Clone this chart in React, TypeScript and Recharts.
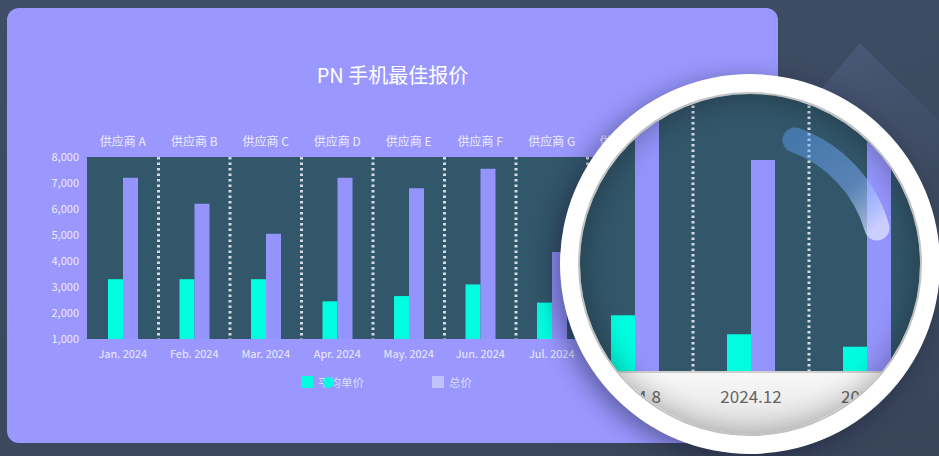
import React from 'react';
import { Bar, BarChart, CartesianGrid, XAxis, YAxis } from 'recharts';

const months = [
  'Jan. 2024',
  'Feb. 2024',
  'Mar. 2024',
  'Apr. 2024',
  'May. 2024',
  'Jun. 2024',
  'Jul. 2024',
  'Aug. 2024',
  'Sep. 2024',
];
const suppliers = [
  '供应商 A',
  '供应商 B',
  '供应商 C',
  '供应商 D',
  '供应商 E',
  '供应商 F',
  '供应商 G',
  '供应商 H',
  '供应商 I',
];
const avgPrice = [3300, 3300, 3300, 2450, 2650, 3100, 2400, 2350, 2200];
const totalPrice = [7200, 6200, 5050, 7200, 6800, 7550, 4350, 7600, 6100];
const yTicks = [1000, 2000, 3000, 4000, 5000, 6000, 7000, 8000];

// what the magnifier shows
const lensPeriods = ['2024.4', '2024.8', '2024.12', '2025.4', '2025.8'];
const lensAvg = [2100, 2350, 1900, 1600, 2000];
const lensTotal = [6400, 7600, 6050, 7300, 6500];

const FONT = '"Noto Sans CJK SC", "Noto Sans", sans-serif';
const CYAN = '#00fde0';
const PURPLE = '#9494fc';
const PLOT_BG = '#32566a';
const SEP = '#d6dae2';
const LABEL = '#ecebff';

// dotted separators sit on the band edges between categories
function bandEdges(categories: string[]) {
  return ({ xAxis }: any) => {
    try {
      const sc = xAxis?.scale;
      if (!sc) return [];
      const f = typeof sc === 'function' ? (v: string) => sc(v) : (v: string) => sc.map(v);
      const range: number[] = sc.range();
      const lo = Math.min(...range);
      const first = f(categories[0]);
      const shift = Math.abs(first - lo) < 1 ? 0 : first - lo;
      return categories.slice(1).map((c) => f(c) - shift);
    } catch (e) {
      return [];
    }
  };
}

function Lens() {
  const lensData = lensPeriods.map((period, i) => ({
    period,
    avg: lensAvg[i],
    total: lensTotal[i],
  }));

  return (
    <>
      <div
        style={{
          position: 'absolute',
          left: 560,
          top: 74,
          width: 380,
          height: 380,
          borderRadius: '50%',
          background: '#ffffff',
          boxShadow: '-6px 6px 24px rgba(15, 20, 50, 0.45)',
        }}
      />
      <div
        style={{
          position: 'absolute',
          left: 578,
          top: 92,
          width: 344,
          height: 344,
          boxSizing: 'border-box',
          borderRadius: '50%',
          border: '2px solid #c2c2c2',
          overflow: 'hidden',
          background: 'linear-gradient(180deg, #ffffff 75%, #e4e4e4 100%)',
        }}
      >
        <div style={{ position: 'absolute', left: -119, top: -16 }}>
          <BarChart
            width={580}
            height={354}
            data={lensData}
            barGap={0}
            margin={{ top: 0, right: 0, bottom: 0, left: 0 }}
          >
            <CartesianGrid
              xAxisId="main"
              horizontal={false}
              verticalCoordinatesGenerator={bandEdges(lensPeriods)}
              fill={PLOT_BG}
              fillOpacity={1}
              stroke={SEP}
              strokeWidth={3}
              strokeDasharray="2.5 3"
            />
            <XAxis
              xAxisId="main"
              dataKey="period"
              height={60}
              tickLine={false}
              axisLine={{ stroke: '#cfcfcf', strokeWidth: 2 }}
              tick={{ fill: '#666666', fontSize: 17 }}
              tickMargin={13}
              interval={0}
            />
            <YAxis hide domain={[1000, 8000]} allowDataOverflow />
            <Bar xAxisId="main" dataKey="avg" fill={CYAN} barSize={24} isAnimationActive={false} />
            <Bar xAxisId="main" dataKey="total" fill={PURPLE} barSize={24} isAnimationActive={false} />
          </BarChart>
        </div>
        <div
          style={{
            position: 'absolute',
            inset: 0,
            borderRadius: '50%',
            boxShadow: 'inset 0 0 30px rgba(0, 0, 0, 0.32)',
          }}
        />
      </div>
      <svg
        width={939}
        height={456}
        style={{ position: 'absolute', left: 0, top: 0, pointerEvents: 'none' }}
      >
        <defs>
          <linearGradient id="glare" gradientUnits="userSpaceOnUse" x1="795" y1="140" x2="877" y2="228">
            <stop offset="0%" stopColor="#5fa0fa" stopOpacity={0.45} />
            <stop offset="60%" stopColor="#7fb0ff" stopOpacity={0.5} />
            <stop offset="100%" stopColor="#dde2ff" stopOpacity={0.75} />
          </linearGradient>
        </defs>
        <path
          d="M 795 140 A 132 132 0 0 1 877 228"
          fill="none"
          stroke="url(#glare)"
          strokeWidth={25}
          strokeLinecap="round"
        />
      </svg>
    </>
  );
}

export default function App() {
  const data = months.map((month, i) => ({
    month,
    supplier: suppliers[i],
    avg: avgPrice[i],
    total: totalPrice[i],
  }));

  return (
    <div
      style={{
        position: 'absolute',
        left: 0,
        top: 0,
        width: 939,
        height: 456,
        overflow: 'hidden',
        background: 'linear-gradient(170deg, #3f4d65 0%, #3c4a60 60%, #394559 100%)',
        fontFamily: FONT,
      }}
    >
      <svg width={939} height={456} style={{ position: 'absolute', left: 0, top: 0 }}>
        <defs>
          <linearGradient id="diamond" x1="0" y1="0" x2="0.2" y2="1">
            <stop offset="0%" stopColor="#4d5a7c" />
            <stop offset="100%" stopColor="#3c4a60" stopOpacity={0} />
          </linearGradient>
        </defs>
        <polygon points="860,43 958,140 862,250 770,150" fill="url(#diamond)" />
      </svg>

      <div
        style={{
          position: 'absolute',
          left: 7,
          top: 8,
          width: 771,
          height: 435,
          borderRadius: 12,
          background: '#9a98fe',
        }}
      />

      <div
        style={{
          position: 'absolute',
          left: 7,
          top: 60,
          width: 771,
          textAlign: 'center',
          color: '#ffffff',
          fontSize: 20,
          lineHeight: '30px',
        }}
      >
        PN 手机最佳报价
      </div>

      <div style={{ position: 'absolute', left: 0, top: 0 }}>
        <BarChart
          width={760}
          height={456}
          data={data}
          barGap={0}
          margin={{ top: 127, right: 29.5, bottom: 87, left: 27 }}
        >
          <CartesianGrid
            xAxisId="main"
            horizontal={false}
            verticalCoordinatesGenerator={bandEdges(months)}
            fill={PLOT_BG}
            fillOpacity={1}
            stroke={SEP}
            strokeWidth={3}
            strokeDasharray="2.5 3"
          />
          <XAxis
            xAxisId="main"
            dataKey="month"
            height={30}
            axisLine={false}
            tickLine={false}
            tickMargin={5}
            interval={0}
            tick={{ fill: LABEL, fontSize: 11 }}
          />
          <XAxis
            xAxisId="top"
            dataKey="supplier"
            orientation="top"
            height={30}
            axisLine={false}
            tickLine={false}
            tickMargin={5}
            interval={0}
            tick={{ fill: LABEL, fontSize: 12 }}
          />
          <YAxis
            domain={[1000, 8000]}
            ticks={yTicks}
            allowDataOverflow
            width={60}
            axisLine={false}
            tickLine={false}
            tick={{ fill: LABEL, fontSize: 11 }}
            tickFormatter={(v: number) => v.toLocaleString('en-US')}
          />
          <Bar xAxisId="main" dataKey="avg" name="平均单价" fill={CYAN} barSize={15} isAnimationActive={false} />
          <Bar xAxisId="main" dataKey="total" name="总价" fill={PURPLE} barSize={15} isAnimationActive={false} />
        </BarChart>
      </div>

      {/* legend */}
      <div style={{ position: 'absolute', left: 301, top: 376, width: 12, height: 12, background: CYAN }} />
      <div style={{ position: 'absolute', left: 318, top: 373, fontSize: 11.5, lineHeight: '18px', color: '#dcdcfa' }}>
        平均单价
      </div>
      <div
        style={{
          position: 'absolute',
          left: 323,
          top: 377,
          width: 11,
          height: 11,
          borderRadius: '50%',
          background: CYAN,
        }}
      />
      <div style={{ position: 'absolute', left: 432, top: 376, width: 12, height: 12, background: '#c0c3fa' }} />
      <div style={{ position: 'absolute', left: 449, top: 373, fontSize: 11.5, lineHeight: '18px', color: '#dcdcfa' }}>
        总价
      </div>

      <Lens />
    </div>
  );
}
